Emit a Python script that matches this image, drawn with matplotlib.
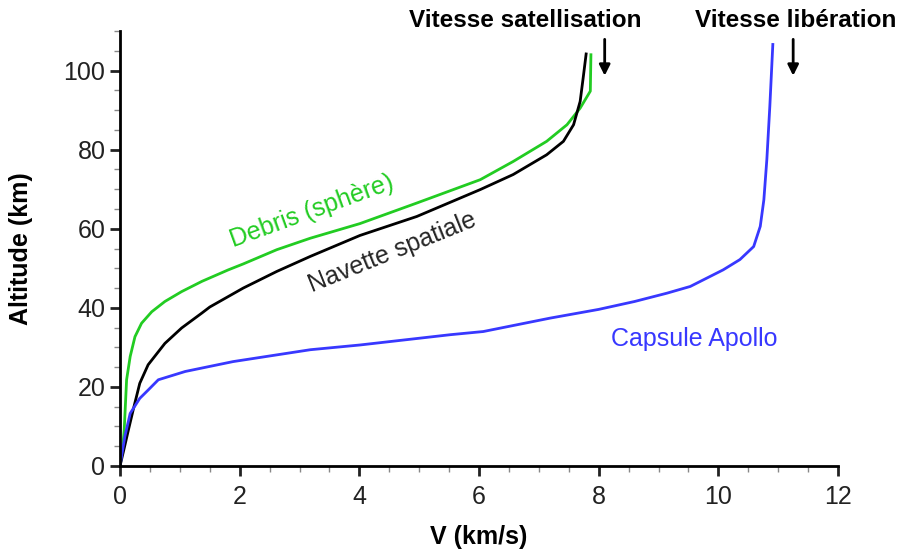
import matplotlib
matplotlib.use('Agg')
import matplotlib.pyplot as plt
from matplotlib.ticker import MultipleLocator

plt.rcParams['font.family'] = ['Liberation Sans', 'DejaVu Sans']

# Debris (sphere)
v_debris = [0, 0.04, 0.07, 0.11, 0.17, 0.25, 0.36, 0.53, 0.75, 1.03, 1.37, 1.81,
            2.06, 2.62, 3.18, 4.01, 4.96, 6.02, 6.57, 7.13, 7.47, 7.69, 7.86, 7.87]
h_debris = [0, 4, 9.1, 21.8, 27.7, 32.7, 36.1, 39, 41.6, 44.1, 46.7, 49.6,
            51.1, 54.7, 57.6, 61.3, 66.5, 72.4, 77, 82.1, 86.3, 90.5, 94.8, 104]

# Navette spatiale
v_navette = [0, 0.07, 0.14, 0.22, 0.33, 0.47, 0.75, 1.03, 1.37, 1.5, 2.06, 2.62,
             3.18, 4.01, 4.96, 6.02, 6.57, 7.13, 7.41, 7.58, 7.69, 7.74, 7.79]
h_navette = [0, 4.5, 9.1, 14.2, 20.9, 25.6, 31, 34.9, 38.7, 40.2, 45.0, 49.2,
             53, 58.3, 63.1, 69.9, 73.7, 78.7, 82.1, 86.3, 92.2, 98.1, 104.2]

# Capsule Apollo
v_apollo = [0, 0.08, 0.17, 0.33, 0.47, 0.64, 1.09, 1.89, 3.18, 4.01, 5.52, 6.07,
            7.19, 8.0, 8.6, 9.14, 9.53, 10.08, 10.36, 10.59, 10.7, 10.76, 10.81,
            10.86, 10.91]
h_apollo = [0, 7.4, 13.3, 17.1, 19.2, 21.8, 23.9, 26.4, 29.4, 30.6, 33.2, 34,
            37.4, 39.6, 41.6, 43.7, 45.4, 49.6, 52.2, 55.5, 60.6, 67.3, 77.5,
            91, 106.6]

fig = plt.figure(figsize=(8.99, 5.51), dpi=100)
ax = fig.add_axes([0.1335, 0.1543, 0.7987, 0.7894])

ax.plot(v_debris, h_debris, color='#22cc22', lw=2)
ax.plot(v_navette, h_navette, color='black', lw=2)
ax.plot(v_apollo, h_apollo, color='#3838ff', lw=2)

ax.set_xlim(0, 12)
ax.set_ylim(0, 110)
ax.xaxis.set_major_locator(MultipleLocator(2))
ax.xaxis.set_minor_locator(MultipleLocator(0.5))
ax.yaxis.set_major_locator(MultipleLocator(20))
ax.yaxis.set_minor_locator(MultipleLocator(5))
ax.spines['top'].set_visible(False)
ax.spines['right'].set_visible(False)
ax.spines['left'].set_linewidth(2)
ax.spines['bottom'].set_linewidth(2)
ax.tick_params(which='major', length=7, width=2, labelsize=18, colors='#222222')
ax.tick_params(which='minor', length=4, width=1, colors='#888888')
ax.tick_params(axis='x', which='major', pad=7)

ax.set_xlabel('V (km/s)', fontsize=18, fontweight='bold', labelpad=11)
ax.set_ylabel('Altitude (km)', fontsize=18, fontweight='bold', labelpad=22)

ax.text(3.2, 64.5, 'Debris (sphère)', color='#22cc22', fontsize=18,
        rotation=20, ha='center', va='center')
ax.text(4.55, 54, 'Navette spatiale', color='black', fontsize=18,
        rotation=22, ha='center', va='center', alpha=0.85)
ax.text(9.6, 32, 'Capsule Apollo', color='#3838ff', fontsize=18,
        ha='center', va='center')

ax.text(6.77, 112.6, 'Vitesse satellisation', fontsize=17.5, fontweight='bold',
        ha='center', va='center', clip_on=False)
ax.text(11.3, 112.6, 'Vitesse libération', fontsize=17.5, fontweight='bold',
        ha='center', va='center', clip_on=False)
for xa in [8.1, 11.25]:
    ax.annotate('', xy=(xa, 98), xytext=(xa, 108.6), annotation_clip=False,
                arrowprops=dict(arrowstyle='-|>', color='black', lw=2,
                                mutation_scale=16))

fig.savefig('out.png', dpi=100)
